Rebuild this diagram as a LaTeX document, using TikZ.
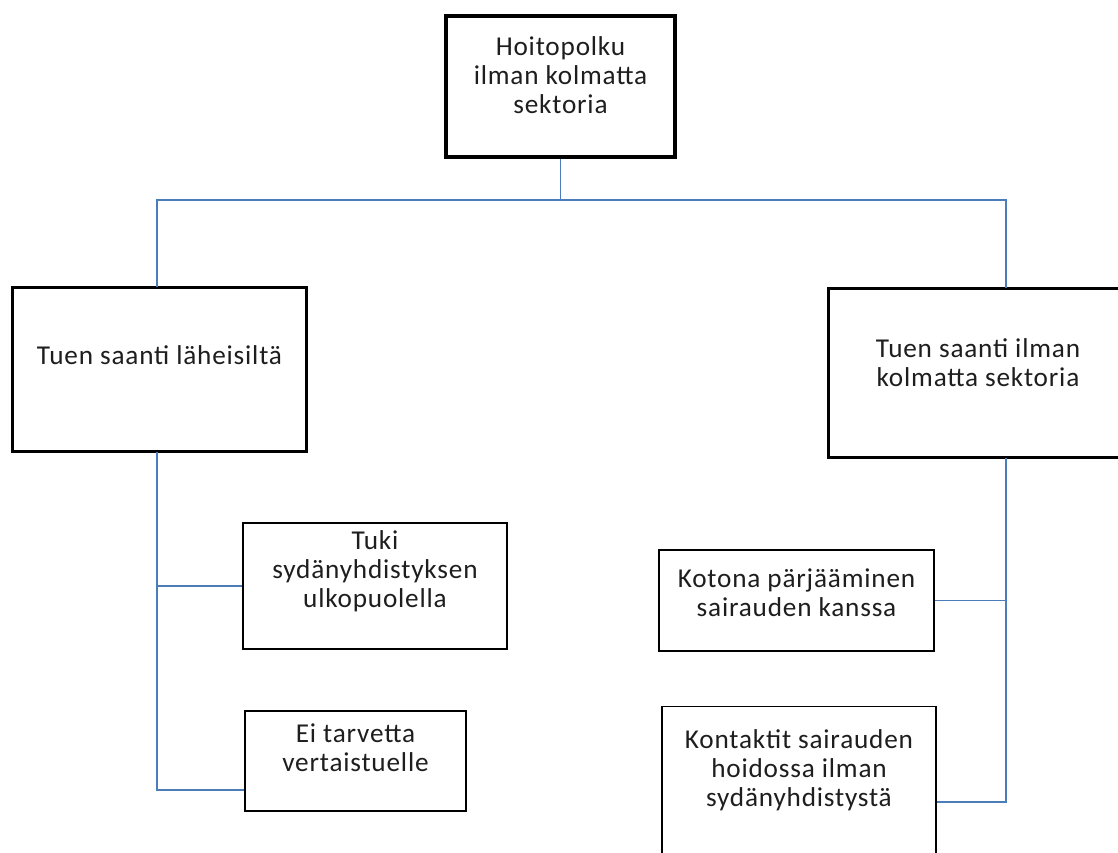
\documentclass[tikz,border=0pt]{standalone}
\usepackage{fontspec}
\setmainfont{Carlito}[LetterSpace=3]
\usepackage{tikz}
\usetikzlibrary{positioning}
\definecolor{linkblue}{RGB}{74,126,187}
\definecolor{textgray}{RGB}{30,30,30}

\begin{document}
\begin{tikzpicture}[x=0.02cm, y=-0.02cm,
    box/.style={draw=black, fill=white, align=center, text=textgray,
        font=\fontsize{15.5}{16.5}\selectfont, inner sep=0pt},
    link/.style={draw=linkblue, line width=0.8pt}]
    % Page
    \useasboundingbox (0,0) rectangle (1118,852);

    % Top box
    \node[box, line width=2.8pt, minimum width=4.58cm, minimum height=2.82cm,
        text depth=13pt] (hp) at (560.5,86.5) {Hoitopolku\\ilman kolmatta\\sektoria};

    % Second level
    \node[box, line width=1.7pt, minimum width=5.9cm, minimum height=3.3cm,
        text depth=17pt] (ls) at (159.5,369.5) {Tuen saanti läheisiltä};
    \node[box, line width=1.7pt, minimum width=6cm, minimum height=3.4cm,
        text depth=12pt] (rs) at (978,373) {Tuen saanti ilman\\kolmatta sektoria};

    % Left branch
    \node[box, line width=1.1pt, minimum width=5.28cm, minimum height=2.52cm,
        text depth=19pt] (tk) at (375,586) {Tuki\\sydänyhdistyksen\\ulkopuolella};
    \node[box, line width=1.1pt, minimum width=4.42cm, minimum height=2cm,
        text depth=15pt] (ei) at (355.5,761) {Ei tarvetta\\vertaistuelle};

    % Right branch
    \node[box, line width=1.1pt, minimum width=5.5cm, minimum height=2.02cm,
        text depth=9pt] (kp) at (796.5,600.5) {Kotona pärjääminen\\sairauden kanssa};
    \node[box, line width=1.1pt, minimum width=5.48cm, minimum height=3.46cm,
        text depth=28pt] (kt) at (799,793) {Kontaktit sairauden\\hoidossa ilman\\sydänyhdistystä};

    % Connector points
    \coordinate (hub) at (560.5,200);
    \coordinate (rtop) at (1006,288);
    \coordinate (rbot) at (1006,458);
    \coordinate (lbot) at (157,452);
    \coordinate (ltop) at (157,287);

    % Connectors
    \draw[link] (hp.south) -- (hub);
    \draw[link] (ltop) |- (hub) -| (rtop);
    \draw[link] (lbot) |- (tk.west);
    \draw[link] (lbot) |- (ei.west |- 0,790);
    \draw[link] (rbot) |- (kp.east);
    \draw[link] (rbot) |- (kt.east |- 0,802);
\end{tikzpicture}
\end{document}
